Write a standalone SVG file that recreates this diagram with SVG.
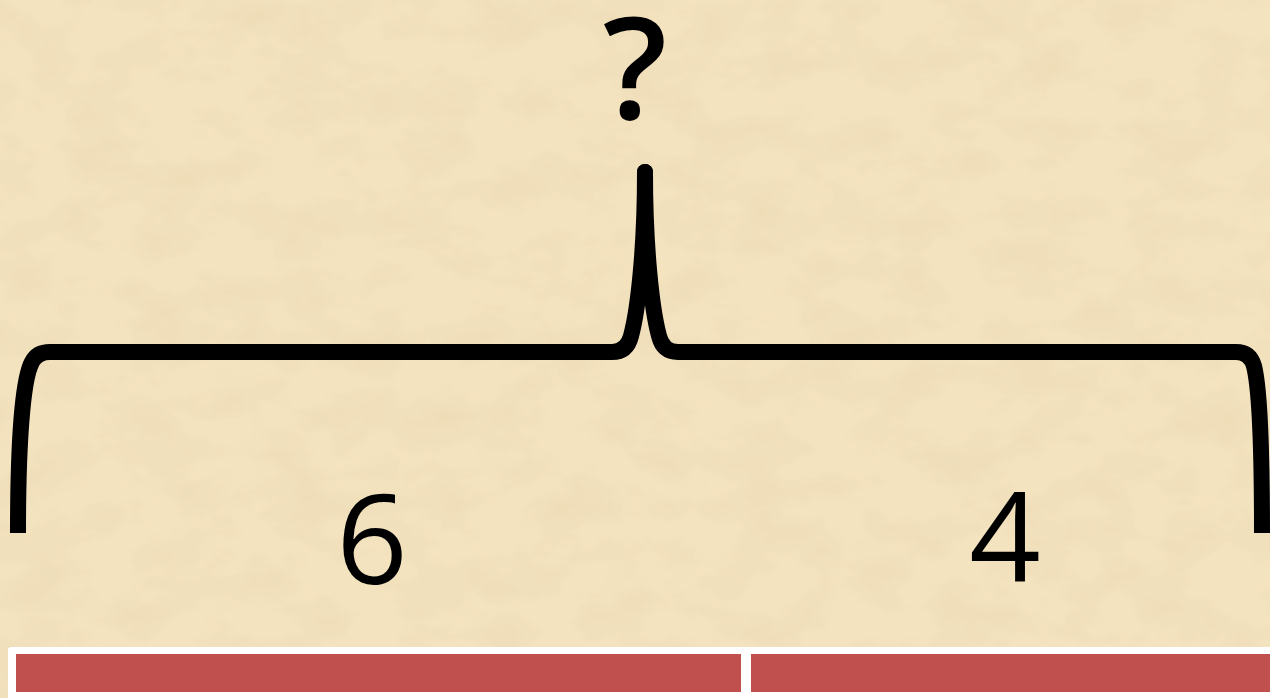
<svg xmlns="http://www.w3.org/2000/svg" width="1270" height="698" viewBox="0 0 1270 698">
<style>
.lbl{font-family:"Open Sans","Noto Sans",sans-serif;fill:#000;text-anchor:middle}
.brace{fill:none;stroke:#000;stroke-width:16;stroke-linejoin:round;stroke-linecap:butt}
.frame{fill:#fff}
.bar{fill:#c0504d}
</style>
<defs>
<filter id="paper" x="0" y="0" width="100%" height="100%">
<feTurbulence type="fractalNoise" baseFrequency="0.015 0.025" numOctaves="4" seed="7" result="n"/>
<feColorMatrix in="n" type="matrix" values="0 0 0 0 0.84  0 0 0 0 0.70  0 0 0 0 0.46  0 0 0 -2 1.2" result="c"/>
<feComposite in="c" in2="SourceGraphic" operator="over"/>
</filter>
</defs>
<g id="background">
<rect width="1270" height="698" fill="#f4e3bf"/>
<rect width="1270" height="698" fill="#f4e3bf" filter="url(#paper)" opacity="0.7"/>
</g>
<g id="connectors">
<path class="brace" d="M18,533 C18,450 22,380 32,362 Q37,352 50,352 L612,352 Q627,352 631,336 C638,310 645,250 645,172 C645,250 652,310 659,336 Q663,352 678,352 L1236,352 Q1250,352 1254,366 C1260,390 1262,450 1262,533"/>
<circle cx="645" cy="172" r="8" fill="#000"/>
</g>
<g id="question">
<text class="lbl" x="635" y="119" font-size="142" font-weight="600">?</text>
</g>
<g id="label-6">
<text class="lbl" x="372" y="584" font-size="125" font-weight="500">6</text>
</g>
<g id="label-4">
<text class="lbl" x="1005" y="582" font-size="125" font-weight="500">4</text>
</g>
<g id="bar-6">
<rect class="frame" x="8" y="647" width="741" height="55" rx="3"/>
<rect class="bar" x="16" y="654" width="725" height="38"/>
</g>
<g id="bar-4">
<rect class="frame" x="746" y="647" width="530" height="55" rx="3"/>
<rect class="bar" x="751" y="654" width="525" height="38"/>
</g>
</svg>
